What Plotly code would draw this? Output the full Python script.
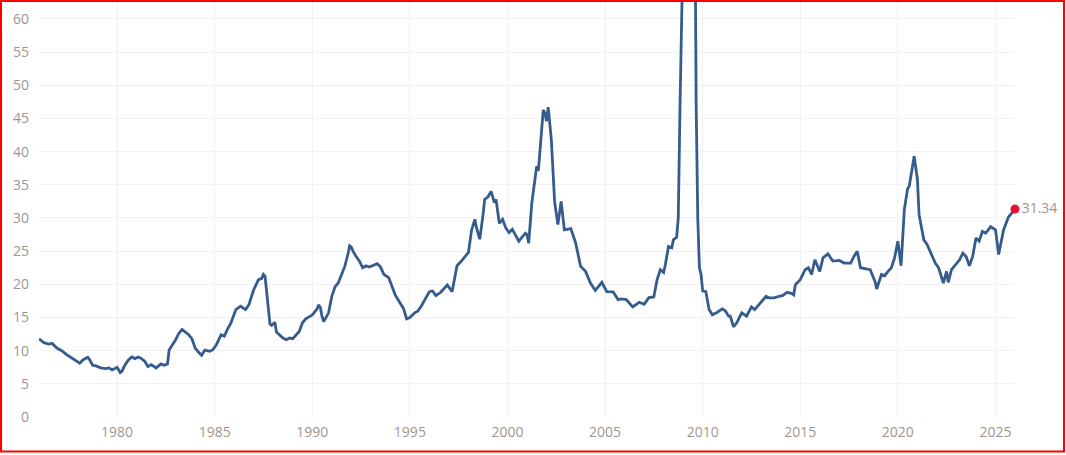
import plotly.graph_objects as go

# S&P 500 price / earnings ratio, monthly readings (1976 - 2026)
dates = [
    '1976-01', '1976-04', '1976-07', '1976-09', '1976-12', '1977-03', '1977-06', '1977-09', '1977-12',
    '1978-02', '1978-04', '1978-06', '1978-07', '1978-08', '1978-10', '1978-12',
    '1979-03', '1979-06', '1979-08', '1979-10',
    '1980-01', '1980-03', '1980-04', '1980-06', '1980-08', '1980-10', '1980-12',
    '1981-02', '1981-04', '1981-06', '1981-08', '1981-10', '1981-12',
    '1982-01', '1982-04', '1982-06', '1982-08', '1982-09',
    '1983-01', '1983-03', '1983-05', '1983-07', '1983-09', '1983-11',
    '1984-01', '1984-03', '1984-05', '1984-07', '1984-10', '1984-12',
    '1985-02', '1985-05', '1985-07', '1985-09', '1985-11',
    '1986-02', '1986-05', '1986-08', '1986-10',
    '1987-01', '1987-04', '1987-06', '1987-07', '1987-08', '1987-09', '1987-10', '1987-11', '1987-12',
    '1988-02', '1988-03', '1988-05', '1988-07', '1988-09', '1988-11',
    '1989-01', '1989-03', '1989-05', '1989-07', '1989-09', '1989-11',
    '1990-01', '1990-02', '1990-04', '1990-05', '1990-06', '1990-07', '1990-08', '1990-09', '1990-11',
    '1991-01', '1991-03', '1991-05', '1991-07', '1991-09', '1991-11', '1991-12',
    '1992-01', '1992-02', '1992-04', '1992-06', '1992-08', '1992-10', '1992-12',
    '1993-02', '1993-05', '1993-07', '1993-09', '1993-12',
    '1994-02', '1994-04', '1994-07', '1994-09', '1994-11',
    '1995-01', '1995-04', '1995-06', '1995-08', '1995-10',
    '1996-01', '1996-03', '1996-05', '1996-08', '1996-10', '1996-12',
    '1997-03', '1997-06', '1997-09', '1997-11',
    '1998-01', '1998-03', '1998-05', '1998-06', '1998-08', '1998-10', '1998-11',
    '1999-01', '1999-03', '1999-05', '1999-06', '1999-08', '1999-10', '1999-12',
    '2000-02', '2000-04', '2000-06', '2000-08', '2000-10', '2000-12',
    '2001-01', '2001-02', '2001-04', '2001-07', '2001-08', '2001-11', '2001-12',
    '2002-01', '2002-02', '2002-04', '2002-06', '2002-08', '2002-10', '2002-12',
    '2003-04', '2003-07', '2003-10',
    '2004-01', '2004-04', '2004-07', '2004-11',
    '2005-02', '2005-06', '2005-09', '2005-11',
    '2006-02', '2006-06', '2006-10',
    '2007-01', '2007-04', '2007-07', '2007-09', '2007-11',
    '2008-01', '2008-02', '2008-04', '2008-06', '2008-07', '2008-09', '2008-10', '2008-11', '2008-12',
    '2009-01', '2009-02', '2009-03', '2009-04', '2009-05', '2009-06', '2009-07', '2009-08', '2009-09',
    '2009-10', '2009-11', '2009-12',
    '2010-01', '2010-03', '2010-05', '2010-07', '2010-10',
    '2011-01', '2011-03', '2011-05', '2011-06', '2011-08', '2011-10',
    '2012-01', '2012-04', '2012-07', '2012-09',
    '2013-01', '2013-04', '2013-06', '2013-09', '2013-12',
    '2014-02', '2014-05', '2014-08', '2014-09', '2014-10',
    '2015-01', '2015-04', '2015-06', '2015-08', '2015-10',
    '2016-01', '2016-03', '2016-06', '2016-09',
    '2017-01', '2017-04', '2017-08', '2017-10', '2017-12',
    '2018-02', '2018-08', '2018-11', '2018-12',
    '2019-03', '2019-05', '2019-07', '2019-09', '2019-11',
    '2020-01', '2020-03', '2020-05', '2020-07', '2020-08', '2020-11',
    '2021-01', '2021-02', '2021-05', '2021-07', '2021-10', '2021-12',
    '2022-02', '2022-05', '2022-07', '2022-08', '2022-10',
    '2023-01', '2023-03', '2023-05', '2023-07', '2023-09', '2023-11',
    '2024-01', '2024-03', '2024-05', '2024-07', '2024-10',
    '2025-01', '2025-03', '2025-06', '2025-09', '2026-01',
]
pe_ratio = [
    11.8, 11.2, 11.0, 11.1, 10.4, 10.0, 9.4, 8.9, 8.3,
    8.1, 8.6, 8.8, 9.0, 8.7, 7.8, 7.7,
    7.4, 7.3, 7.4, 7.1,
    7.5, 6.7, 6.9, 7.9, 8.6, 9.05, 8.8,
    9.05, 8.8, 8.4, 7.6, 7.9, 7.6,
    7.4, 8.0, 7.8, 8.0, 10.1,
    11.65, 12.6, 13.2, 12.8, 12.4, 11.8,
    10.4, 9.8, 9.3, 10.1, 9.9, 10.2,
    10.9, 12.4, 12.2, 13.3, 14.2,
    16.2, 16.7, 16.2, 16.9,
    19.2, 20.7, 20.9, 21.5, 21.2, 19.0, 16.0, 14.0, 13.8,
    14.3, 12.8, 12.4, 11.9, 11.65, 11.9,
    11.8, 12.4, 12.9, 14.2, 14.8, 15.1,
    15.4, 15.7, 16.3, 16.9, 16.5, 15.2, 14.4, 14.8, 15.7,
    18.2, 19.6, 20.2, 21.5, 22.7, 24.6, 25.8,
    25.6, 25.0, 24.2, 23.5, 22.5, 22.8, 22.6,
    22.8, 23.1, 22.6, 21.5, 21.0,
    19.5, 18.4, 17.2, 16.4, 14.8,
    15.0, 15.7, 16.0, 16.7, 17.6,
    18.9, 19.0, 18.3, 18.8, 19.3, 19.9,
    18.9, 22.8, 23.6, 24.2,
    24.8, 28.2, 29.8, 28.5, 26.8, 30.5, 32.8,
    33.2, 34.0, 32.3, 32.8, 29.2, 29.8, 28.5,
    27.8, 28.3, 27.5, 26.5, 27.1, 27.7,
    27.5, 26.2, 32.3, 37.8, 37.1, 46.3, 45.8,
    44.6, 46.7, 41.8, 32.5, 29.0, 32.5, 28.2,
    28.4, 26.2, 22.7,
    21.95, 20.2, 19.1, 20.3,
    18.9, 18.85, 17.7, 17.8,
    17.7, 16.6, 17.3,
    17.0, 18.0, 18.1, 20.7, 22.2,
    21.8, 22.9, 25.7, 25.5, 26.7, 27.1, 30.0, 46.0, 65.0,
    71.0, 84.0, 110.0, 116.0, 123.7, 122.0, 101.0, 86.0, 47.0,
    30.0, 22.5, 21.5,
    19.0, 18.9, 16.2, 15.4, 15.8,
    16.3, 16.0, 15.2, 15.2, 13.6, 14.2,
    15.7, 15.2, 16.6, 16.2,
    17.4, 18.2, 17.95, 17.95, 18.2,
    18.3, 18.8, 18.6, 18.4, 19.95,
    20.7, 22.2, 22.5, 21.5, 23.7,
    21.95, 24.0, 24.6, 23.5,
    23.6, 23.2, 23.2, 24.2, 25.0,
    22.5, 22.2, 20.4, 19.3,
    21.5, 21.3, 21.95, 22.5, 24.0,
    26.5, 22.8, 31.25, 34.4, 34.8, 39.3,
    35.8, 30.5, 26.7, 26.0, 24.2, 23.2,
    22.5, 20.2, 21.95, 20.3, 22.2,
    23.2, 23.7, 24.7, 24.2, 22.8, 24.2,
    27.0, 26.5, 28.0, 27.7, 28.7,
    28.2, 24.5, 28.2, 30.15, 31.34,
]
y_ticks = list(range(0, 61, 5))
x_ticks = [f'{y}-01-01' for y in range(1980, 2026, 5)]
x_labels = [str(y) for y in range(1980, 2026, 5)]

W, H = 1066, 455
M = dict(l=39, r=51, t=2, b=38)
_LINE = '#365c8d'
_TICK = '#9d968f'
_GRID = '#f1f1f3'

fig = go.Figure()
fig.add_trace(go.Scatter(
    x=dates, y=pe_ratio, mode='lines',
    line=dict(color=_LINE, width=2.8), hoverinfo='x+y', showlegend=False,
))
fig.add_trace(go.Scatter(
    x=[dates[-1]], y=[pe_ratio[-1]], mode='markers+text',
    marker=dict(color='#e8102e', size=9),
    text=[f'{pe_ratio[-1]:.2f}'], textposition='middle right',
    textfont=dict(color=_TICK, size=14),
    cliponaxis=False, showlegend=False,
))

# thin red frame round the whole picture (pixel -> paper coords)
pw = W - M['l'] - M['r']
ph = H - M['t'] - M['b']
px_x = lambda p: (p - M['l']) / pw
px_y = lambda p: (H - M['b'] - p) / ph
fig.add_shape(
    type='rect', xref='paper', yref='paper',
    x0=px_x(1), x1=px_x(1064), y0=px_y(451.5), y1=px_y(1),
    line=dict(color='#ff0000', width=2), layer='above',
)

fig.update_layout(
    width=W, height=H, margin=M,
    paper_bgcolor='white', plot_bgcolor='white',
    font=dict(family='Open Sans, sans-serif', size=14, color=_TICK),
    xaxis=dict(
        type='date', range=['1976-01-01', '2026-01-01'],
        tickvals=x_ticks, ticktext=x_labels,
        showgrid=True, gridcolor=_GRID, gridwidth=1,
        zeroline=False, showline=False, ticks='', ticklabelstandoff=5,
    ),
    yaxis=dict(
        range=[0, 62.56], tickvals=y_ticks,
        showgrid=True, gridcolor=_GRID, gridwidth=1,
        zeroline=False, showline=False, ticks='', ticklabelstandoff=9,
    ),
)

# drop the browser's default 8px page margin so the figure sits at 0,0
fig.write_html('out.html', config={'displayModeBar': False},
               post_script="document.body.style.margin='0';")
